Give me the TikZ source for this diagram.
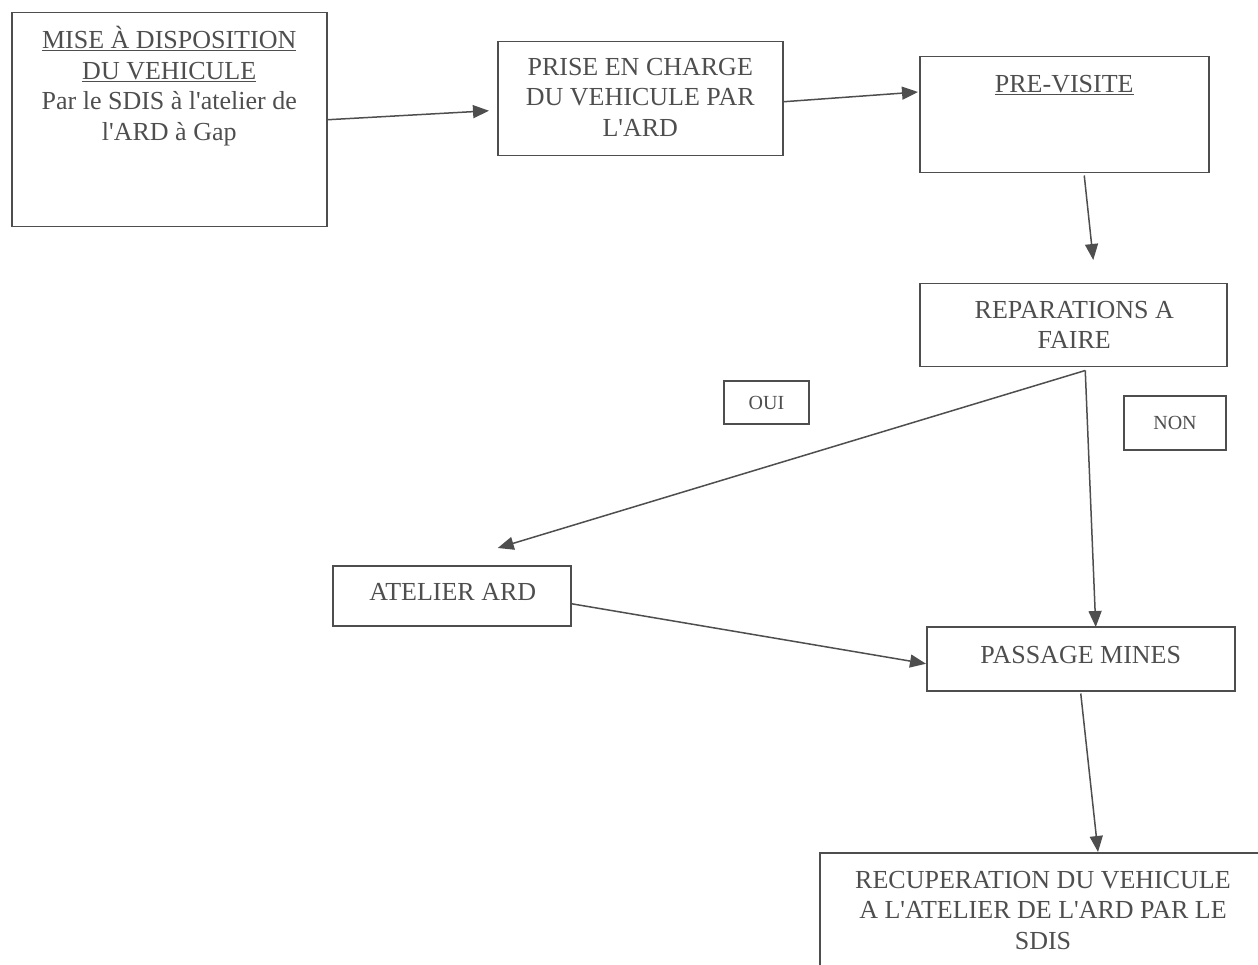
\documentclass[tikz,border=0pt]{standalone}
\usepackage{fontspec}
\setmainfont{Liberation Serif}
\usetikzlibrary{arrows.meta,calc}
\definecolor{ink}{HTML}{4E4E4E}
\newcommand\aq{\textquotesingle}
\begin{document}
\begin{tikzpicture}[x=1pt,y=-1pt,
  box/.style={draw=ink, line width=1.5pt, rectangle, anchor=north west, inner sep=0pt},
  txt/.style={text=ink, font=\fontsize{26}{30.5}\selectfont, align=center, anchor=north, inner sep=0pt},
  small/.style={text=ink, font=\fontsize{20}{24}\selectfont},
  arr/.style={draw=ink, line width=1.5pt, -{Triangle[length=16pt,width=13pt]}}]
\useasboundingbox (0,0) rectangle (1258,965);
\clip (0,0) rectangle (1258,965);
% boxes
\node[box, minimum width=315pt, minimum height=214pt] (mise) at (11,12) {};
\node[box, minimum width=285pt, minimum height=114pt] (prise) at (497,41) {};
\node[box, minimum width=289pt, minimum height=116pt] (previs) at (919,56) {};
\node[box, minimum width=307pt, minimum height=83pt] (repar) at (919,283) {};
\node[box, small, minimum width=85pt, minimum height=43pt, anchor=center] (oui) at (766.5,402.5) {OUI};
\node[box, small, minimum width=102pt, minimum height=54pt, anchor=center] (non) at (1175,423) {NON};
\node[box, minimum width=238pt, minimum height=60pt] (atelier) at (332,565) {};
\node[box, minimum width=308pt, minimum height=64pt] (passage) at (926,626) {};
\node[box, minimum width=460pt, minimum height=140pt] (recup) at (819,852) {};
% texts
\node[txt] (misetxt) at ($(mise.north)+(0,14)$) {\underline{MISE À DISPOSITION}\\\underline{DU VEHICULE}\\Par le SDIS à l\aq atelier de\\l\aq ARD à Gap};
\node[txt] (prisetxt) at ($(prise.north)+(0,17)$) {PRISE EN CHARGE\\DU VEHICULE PAR\\L\aq ARD};
\node[txt] (previstxt) at ($(previs.north)+(0,19)$) {\underline{PRE-VISITE}};
\node[txt] (repartxt) at ($(repar.north)+(1,18)$) {REPARATIONS A\\FAIRE};
\node[txt] (ateliertxt) at ($(atelier.north)+(1,18)$) {ATELIER ARD};
\node[txt] (passagetxt) at ($(passage.north)+(0,20)$) {PASSAGE MINES};
\node[txt] (recuptxt) at ($(recup.north west)+(224,19)$) {RECUPERATION DU VEHICULE\\A L\aq ATELIER DE L\aq ARD PAR LE\\SDIS};
% free end
\coordinate (c3) at ($(repar.north)+(20,-23)$);
% connectors
\draw[arr] (mise.east) -- ($(prise.west)+(-8,12)$);
\draw[arr] ($(prise.east)+(0,3)$) -- ($(previs.north west)+(-1,36)$);
\draw[arr] ($(previs.south)+(20,2)$) -- (c3);
\draw[arr] ($(repar.south)+(12,3)$) -- ($(atelier.north)+(46,-17)$);
\draw[arr] ($(repar.south)+(12,3)$) -- ($(passage.north)+(15,1)$);
\draw[arr] ($(atelier.east)+(0,8)$) -- ($(passage.west)+(0,5)$);
\draw[arr] ($(passage.south)+(0,2)$) -- ($(recup.north west)+(279,0)$);
\end{tikzpicture}
\end{document}
